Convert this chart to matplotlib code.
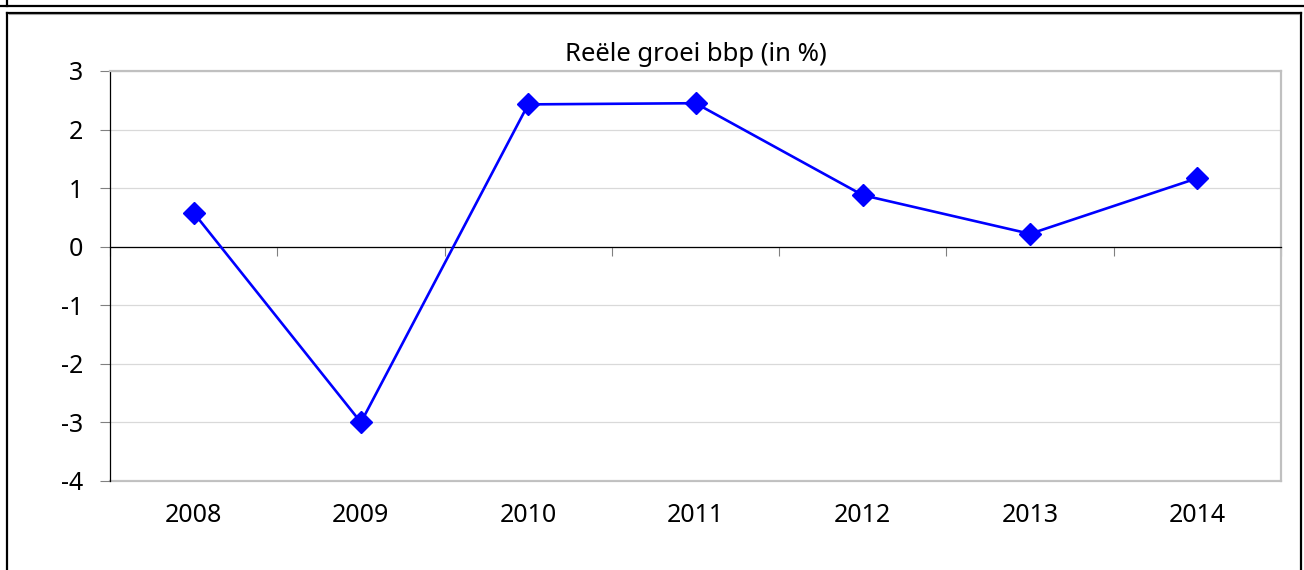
import matplotlib
matplotlib.use("Agg")
import matplotlib.pyplot as plt
from matplotlib.lines import Line2D
import numpy as np

years = ["2008", "2009", "2010", "2011", "2012", "2013", "2014"]
growth = [0.58, -3.0, 2.43, 2.45, 0.88, 0.22, 1.17]
title = "Reële groei bbp (in %)"
yticks = [-4, -3, -2, -1, 0, 1, 2, 3]

plt.rcParams['font.family'] = ['Noto Sans', 'DejaVu Sans']

W, H = 1304, 570
fig = plt.figure(figsize=(W / 100, H / 100), dpi=100)

def fx(px):
    return px / W

def fy(py):
    return 1 - py / H

ax = fig.add_axes([fx(110), fy(481), fx(1281) - fx(110), fy(71) - fy(481)])

x = np.arange(len(years))
ax.plot(x, growth, color="#0000FF", lw=1.9, marker="D", markersize=11,
        markerfacecolor="#0000FF", markeredgecolor="#0000FF", zorder=5, clip_on=False)

ax.set_xlim(-0.5, len(years) - 0.5)
ax.set_ylim(yticks[0], yticks[-1])
ax.set_yticks(yticks)
ax.set_yticklabels([str(v) for v in yticks], fontsize=18)
ax.tick_params(axis="y", length=7.2, width=0.8, color="#808080", pad=12)
ax.yaxis.grid(True, color="#d9d9d9", lw=0.9)
ax.set_axisbelow(True)

# zero-line x axis with boundary ticks
ax.spines['bottom'].set_position(('data', 0))
ax.spines['bottom'].set_color('black')
ax.spines['bottom'].set_linewidth(0.9)
ax.set_xticks(np.arange(-0.5, len(years), 1.0))
ax.set_xticklabels([])
ax.tick_params(axis="x", length=6.5, width=0.8, color="#808080", direction="out")

ax.spines['left'].set_color('black')
ax.spines['left'].set_linewidth(0.9)
for s in ['top', 'right']:
    ax.spines[s].set_color('#c0c0c0')
    ax.spines[s].set_linewidth(1.6)

# category labels at bottom
sec = ax.secondary_xaxis('bottom')
sec.set_xticks(x)
sec.set_xticklabels(years, fontsize=18)
sec.tick_params(length=0, pad=16)
sec.spines['bottom'].set_color('#c0c0c0')
sec.spines['bottom'].set_linewidth(1.6)

ax.set_title(title, fontsize=18.5, pad=7)

# frame lines
fig.add_artist(Line2D([fx(0), fx(W)], [fy(5.5), fy(5.5)], color="black", lw=1.6))
fig.add_artist(Line2D([fx(7), fx(7)], [fy(0), fy(5.5)], color="black", lw=1.6))
fig.add_artist(Line2D([fx(7), fx(1300.5)], [fy(12.5), fy(12.5)], color="black", lw=1.6))
fig.add_artist(Line2D([fx(7), fx(7)], [fy(12.5), fy(H)], color="black", lw=1.6))
fig.add_artist(Line2D([fx(1300.5), fx(1300.5)], [fy(12.5), fy(H)], color="black", lw=1.6))
fig.add_artist(Line2D([fx(8.5), fx(1299)], [fy(14), fy(14)], color="#a0a0a0", lw=0.8))

fig.savefig("out.png", dpi=100)
